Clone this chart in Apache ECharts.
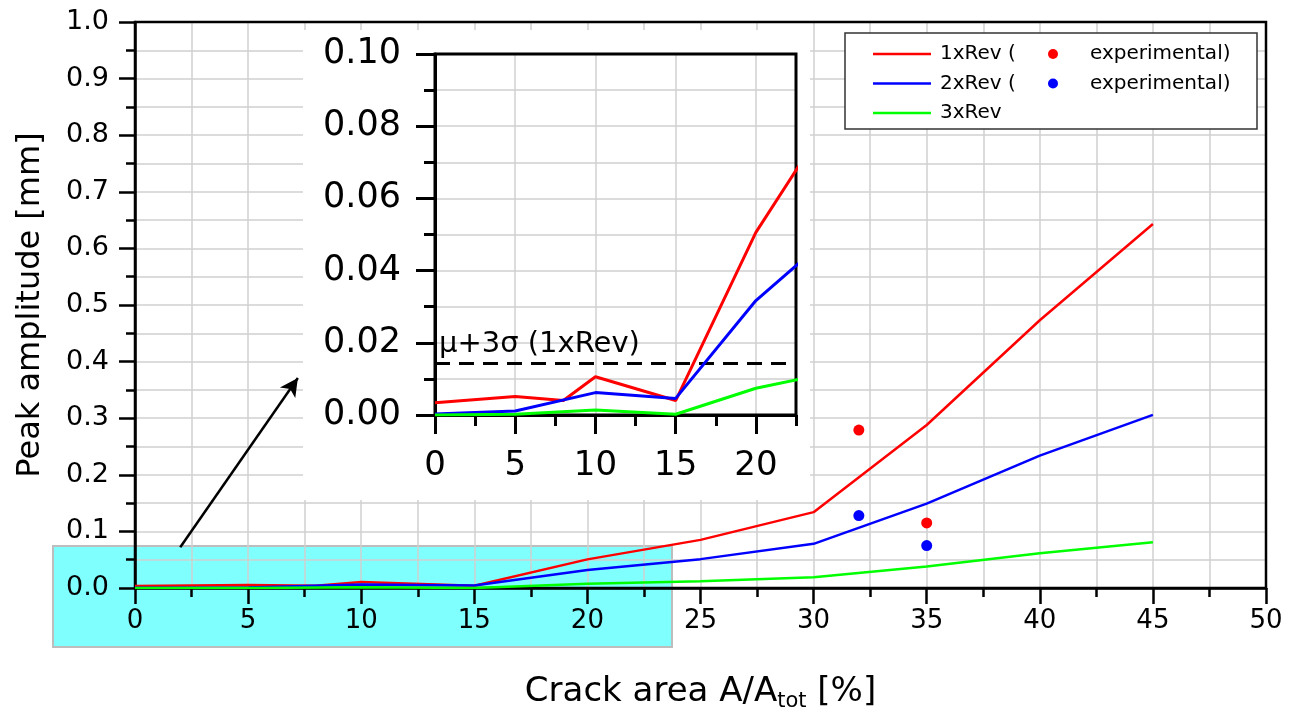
<!DOCTYPE html>
<html>
<head>
<meta charset="utf-8">
<script src="https://cdn.jsdelivr.net/npm/echarts@6/dist/echarts.min.js"></script>
<style>
  html, body { margin: 0; padding: 0; background: #fff; }
  #chart { width: 1296px; height: 722px; }
</style>
</head>
<body>
<div id="chart"></div>
<script>
// simulation curves (crack area in %, peak amplitude in mm)
const rev1X = [0, 5, 8, 10, 15, 20, 25, 30, 35, 40, 45]
const rev1Y = [0.0034, 0.0051, 0.004, 0.0106, 0.004, 0.0506, 0.085, 0.134, 0.288, 0.473, 0.643]
const rev2X = [0, 5, 10, 15, 20, 25, 30, 35, 40, 45]
const rev2Y = [0.0003, 0.0011, 0.0062, 0.0046, 0.0317, 0.051, 0.078, 0.149, 0.234, 0.306]
const rev3X = [0, 5, 10, 15, 20, 25, 30, 35, 40, 45]
const rev3Y = [0, 0.0002, 0.0014, 0.0002, 0.0074, 0.012, 0.019, 0.038, 0.0615, 0.081]

// experimental points
const expX = [32, 35]
const exp1Y = [0.279, 0.115]
const exp2Y = [0.128, 0.075]

// mu + 3 sigma threshold (1xRev)
const threshold = 0.0143

// inset x axis: labelled ticks and short ticks
const insetXTicks = [0, 5, 10, 15, 20]
const insetXMinor = [2.5, 7.5, 12.5, 17.5, 22.5]

const zip = (xs, ys) => xs.map((x, i) => [x, ys[i]])

const FONT = 'DejaVu Sans'
const GRIDLINE = { color: '#d0d0d0', width: 1.5 }

const chart = echarts.init(document.getElementById('chart'))

const option = {
  backgroundColor: '#fff',
  animation: false,
  textStyle: { fontFamily: FONT, color: '#000' },
  grid: [
    { left: 135, top: 22, right: 30, bottom: 134, show: true, borderColor: '#000', borderWidth: 2.5, z: 1 },
    { left: 435, top: 54, width: 361, height: 361, show: true, borderColor: '#000', borderWidth: 3, z: 5 }
  ],
  xAxis: [
    {
      type: 'value', gridIndex: 0, min: 0, max: 50, interval: 5, z: 0,
      name: 'Crack area A/A{sub|tot} [%]',
      nameLocation: 'middle', nameGap: 84,
      nameTextStyle: {
        fontSize: 34, lineHeight: 40, color: '#000',
        rich: { sub: { fontSize: 21, lineHeight: 20, verticalAlign: 'bottom' } }
      },
      axisLine: { lineStyle: { color: '#000', width: 2.5 } },
      axisTick: { length: 16, lineStyle: { color: '#000', width: 2.5 } },
      minorTick: { show: true, splitNumber: 2, length: 9, lineStyle: { color: '#000', width: 2.5 } },
      axisLabel: { fontSize: 26, color: '#000', margin: 20 },
      splitLine: { show: true, lineStyle: GRIDLINE },
      minorSplitLine: { show: true, lineStyle: GRIDLINE }
    },
    {
      type: 'value', gridIndex: 1, position: 'bottom', min: 0, max: 22.5, interval: 2.5, z: 4,
      axisLine: { lineStyle: { color: '#000', width: 3 } },
      axisTick: { length: 19, customValues: insetXTicks, lineStyle: { color: '#000', width: 3 } },
      axisLabel: { fontSize: 34, color: '#000', margin: 34, customValues: insetXTicks },
      splitLine: { show: true, lineStyle: GRIDLINE }
    },
    {
      type: 'value', gridIndex: 1, position: 'bottom', min: 0, max: 22.5, interval: 2.5, z: 4,
      axisLine: { show: false },
      axisTick: { length: 11, customValues: insetXMinor, lineStyle: { color: '#000', width: 3 } },
      axisLabel: { show: false },
      splitLine: { show: false }
    }
  ],
  yAxis: [
    {
      type: 'value', gridIndex: 0, min: 0, max: 1, interval: 0.1, z: 0,
      name: 'Peak amplitude [mm]',
      nameLocation: 'middle', nameGap: 88,
      nameTextStyle: { fontSize: 32, color: '#000' },
      axisLine: { show: true, lineStyle: { color: '#000', width: 2.5 } },
      axisTick: { show: true, length: 16, lineStyle: { color: '#000', width: 2.5 } },
      minorTick: { show: true, splitNumber: 2, length: 9, lineStyle: { color: '#000', width: 2.5 } },
      axisLabel: { fontSize: 27, color: '#000', margin: 26, formatter: v => v.toFixed(1) },
      splitLine: { show: true, lineStyle: GRIDLINE },
      minorSplitLine: { show: true, lineStyle: GRIDLINE }
    },
    {
      type: 'value', gridIndex: 1, min: 0, max: 0.1, interval: 0.02, z: 4,
      axisLine: { show: true, lineStyle: { color: '#000', width: 3 } },
      axisTick: { show: true, length: 19, lineStyle: { color: '#000', width: 3 } },
      minorTick: { show: true, splitNumber: 2, length: 11, lineStyle: { color: '#000', width: 3 } },
      axisLabel: { fontSize: 35, color: '#000', margin: 34, formatter: v => v.toFixed(2) },
      splitLine: { show: true, lineStyle: GRIDLINE },
      minorSplitLine: { show: true, lineStyle: GRIDLINE }
    }
  ],
  legend: [
    {
      data: ['1xRev (', '2xRev (', '3xRev'],
      orient: 'vertical', left: 873, top: 43, padding: 0, icon: 'rect',
      itemWidth: 58, itemHeight: 2.5, itemGap: 7.5, z: 8,
      textStyle: { fontSize: 20, lineHeight: 22, color: '#000', padding: [0, 0, 0, 4] }
    },
    {
      data: ['experimental)', 'experimental) '],
      orient: 'vertical', left: 1048, top: 43, padding: 0,
      itemWidth: 10, itemHeight: 10, itemGap: 7.5, icon: 'circle', z: 8,
      textStyle: { fontSize: 20, lineHeight: 22, color: '#000', padding: [0, 0, 0, 27] }
    }
  ],
  graphic: [
    // highlighted zoom region
    { type: 'rect', z: -5, silent: true,
      shape: { x: 53, y: 546, width: 619, height: 101 },
      style: { fill: '#80ffff', stroke: '#bdbdbd', lineWidth: 2 } },
    // white panel behind the inset
    { type: 'rect', z: 3, silent: true,
      shape: { x: 303, y: 30, width: 507, height: 470 },
      style: { fill: '#fff' } },
    // legend frame
    { type: 'rect', z: 7, silent: true,
      shape: { x: 845, y: 33, width: 412, height: 96 },
      style: { fill: '#fff', stroke: '#333', lineWidth: 1.5 } }
  ],
  series: [
    {
      name: '1xRev (', type: 'line', xAxisIndex: 0, yAxisIndex: 0, z: 2,
      symbol: 'none', data: zip(rev1X, rev1Y),
      lineStyle: { color: '#ff0000', width: 2.5 }, itemStyle: { color: '#ff0000' }
    },
    {
      name: '2xRev (', type: 'line', xAxisIndex: 0, yAxisIndex: 0, z: 2,
      symbol: 'none', data: zip(rev2X, rev2Y),
      lineStyle: { color: '#0000ff', width: 2.5 }, itemStyle: { color: '#0000ff' }
    },
    {
      name: '3xRev', type: 'line', xAxisIndex: 0, yAxisIndex: 0, z: 2,
      symbol: 'none', data: zip(rev3X, rev3Y),
      lineStyle: { color: '#00ff00', width: 2.5 }, itemStyle: { color: '#00ff00' },
      // arrow pointing from the highlighted region to the inset
      markLine: {
        silent: true, symbol: ['none', 'arrow'], symbolSize: [14, 18],
        label: { show: false },
        lineStyle: { color: '#000', width: 2.5, type: 'solid' },
        data: [[{ coord: [2, 0.072] }, { coord: [7.2, 0.371] }]]
      }
    },
    {
      name: 'experimental)', type: 'scatter', xAxisIndex: 0, yAxisIndex: 0, z: 2,
      symbolSize: 11, data: zip(expX, exp1Y), itemStyle: { color: '#ff0000', opacity: 1 }
    },
    {
      name: 'experimental) ', type: 'scatter', xAxisIndex: 0, yAxisIndex: 0, z: 2,
      symbolSize: 11, data: zip(expX, exp2Y), itemStyle: { color: '#0000ff', opacity: 1 }
    },
    // inset (zoom of 0..22.5 %)
    {
      name: 'inset 1xRev', type: 'line', xAxisIndex: 1, yAxisIndex: 1, z: 6,
      symbol: 'none', data: zip(rev1X, rev1Y), clip: true,
      lineStyle: { color: '#ff0000', width: 3 },
      markLine: {
        silent: true, symbol: 'none',
        lineStyle: { color: '#000', width: 3, type: [15, 9] },
        label: {
          show: true, position: 'insideStartTop', formatter: 'μ+3σ (1xRev)',
          fontSize: 29, color: '#000', fontFamily: FONT, distance: [4, 4]
        },
        data: [[{ coord: [0, threshold] }, { coord: [22.5, threshold] }]]
      }
    },
    {
      name: 'inset 2xRev', type: 'line', xAxisIndex: 1, yAxisIndex: 1, z: 6,
      symbol: 'none', data: zip(rev2X, rev2Y), clip: true,
      lineStyle: { color: '#0000ff', width: 3 }
    },
    {
      name: 'inset 3xRev', type: 'line', xAxisIndex: 1, yAxisIndex: 1, z: 6,
      symbol: 'none', data: zip(rev3X, rev3Y), clip: true,
      lineStyle: { color: '#00ff00', width: 3 }
    }
  ]
}

chart.setOption(option)
</script>
</body>
</html>
